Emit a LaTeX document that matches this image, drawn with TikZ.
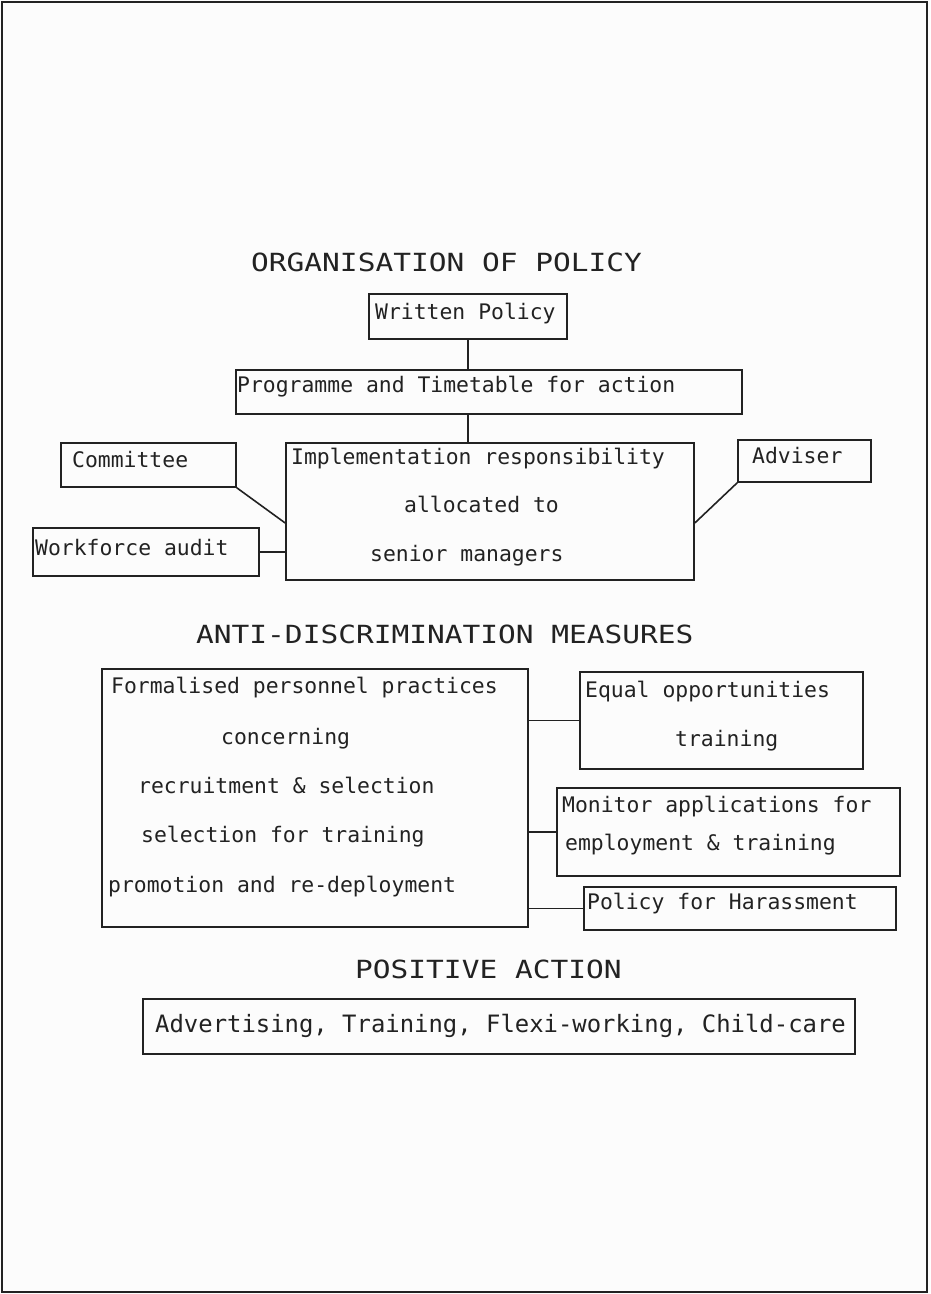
\documentclass[tikz,border=0pt]{standalone}
\usepackage{fontspec}
\newfontfamily\bodyf{DejaVu Sans Mono}
\newfontfamily\titlef[FakeStretch=1.18]{DejaVu Sans Mono}
\definecolor{ink}{HTML}{222222}
\definecolor{paper}{HTML}{FCFCFC}
\begin{document}
\begin{tikzpicture}[x=1pt,y=-1pt,
  box/.style={draw=ink,line width=1.6pt,inner sep=0pt,rectangle},
  txt/.style={anchor=base west,inner sep=0pt,text=ink,font=\bodyf\fontsize{21.4}{24}\selectfont},
  bigtxt/.style={anchor=base west,inner sep=0pt,text=ink,font=\bodyf\fontsize{23.9}{26}\selectfont},
  ttl/.style={anchor=base west,inner sep=0pt,text=ink,font=\titlef\fontsize{25}{28}\selectfont},
  link/.style={draw=ink,line width=1.6pt}]
\fill[paper] (0,0) rectangle (930,1294);
\useasboundingbox (0,0) rectangle (930,1294);
\draw[ink,line width=2.4pt] (2,2) rectangle (927,1292);

% titles
\node[ttl] (t1) at (251,271) {ORGANISATION OF POLICY};
\node[ttl] (t2) at (196,643) {ANTI-DISCRIMINATION MEASURES};
\node[ttl] (t3) at (355,978) {POSITIVE ACTION};

% organisation boxes
\node[box,minimum width=198pt,minimum height=45pt] (wp) at (468,316.5) {};
\node[box,minimum width=506pt,minimum height=44pt] (prog) at (489,392) {};
\node[box,minimum width=408pt,minimum height=137pt] (impl) at (490,511.5) {};
\node[box,minimum width=175pt,minimum height=44pt] (comm) at (148.5,465) {};
\node[box,minimum width=226pt,minimum height=48pt] (wa) at (146,552) {};
\node[box,minimum width=133pt,minimum height=42pt] (adv) at (804.5,461) {};

\node[txt] (wpt) at (375,319) {Written Policy};
\node[txt] (progt) at (237,392) {Programme and Timetable for action};
\node[txt] (implt1) at (291,464) {Implementation responsibility};
\node[txt] (implt2) at (404,512) {allocated to};
\node[txt] (implt3) at (370,561) {senior managers};
\node[txt] (commt) at (72,467) {Committee};
\node[txt] (wat) at (35,555) {Workforce audit};
\node[txt] (advt) at (752,463) {Adviser};

\draw[link] (wp.south) -- (wp.south |- prog.north);
\draw[link] (wp.south |- prog.south) -- (wp.south |- impl.north);
\draw[link] (comm.south east) -- ([yshift=-11.5pt]impl.west);
\draw[link] (wa.east) -- (impl.west |- wa.east);
\draw[link] (adv.south west) -- ([yshift=-11.5pt]impl.east);

% anti-discrimination boxes
\node[box,minimum width=426pt,minimum height=258pt] (form) at (315,798) {};
\node[box,minimum width=283pt,minimum height=97pt] (eo) at (721.5,720.5) {};
\node[box,minimum width=343pt,minimum height=88pt] (mon) at (728.5,832) {};
\node[box,minimum width=312pt,minimum height=43pt] (har) at (740,908.5) {};

\node[txt] (ft1) at (111,693) {Formalised personnel practices};
\node[txt] (ft2) at (221,744) {concerning};
\node[txt] (ft3) at (138,793) {recruitment \& selection};
\node[txt] (ft4) at (141,842) {selection for training};
\node[txt] (ft5) at (108,892) {promotion and re-deployment};
\node[txt] (eot1) at (585,697) {Equal opportunities};
\node[txt] (eot2) at (675,746) {training};
\node[txt] (mont1) at (562,812) {Monitor applications for};
\node[txt] (mont2) at (565,850) {employment \& training};
\node[txt] (hart) at (587,909) {Policy for Harassment};

\draw[link] (form.east |- eo.west) -- (eo.west);
\draw[link] (form.east |- mon.west) -- (mon.west);
\draw[link] (form.east |- har.west) -- (har.west);

% positive action
\node[box,minimum width=712pt,minimum height=55pt] (pa) at (499,1026.5) {};
\node[bigtxt] (pat) at (155,1032) {Advertising, Training, Flexi-working, Child-care};
\end{tikzpicture}
\end{document}
